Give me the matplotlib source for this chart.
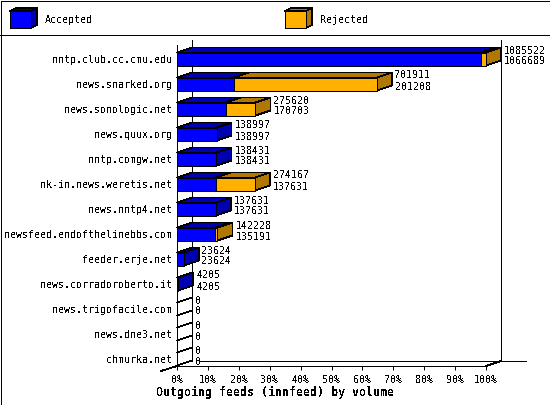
import numpy as np
import matplotlib
matplotlib.use('Agg')
import matplotlib.pyplot as plt
from matplotlib.patches import Polygon, Rectangle

hosts = ['nntp.club.cc.cmu.edu', 'news.snarked.org', 'news.sonologic.net', 'news.quux.org',
         'nntp.comgw.net', 'nk-in.news.weretis.net', 'news.nntp4.net', 'newsfeed.endofthelinebbs.com',
         'feeder.erje.net', 'news.corradoroberto.it', 'news.trigofacile.com', 'news.dne3.net', 'chmurka.net']
offered = [1085522, 701911, 275620, 138997, 138431, 274167, 137631, 142228, 23624, 4205, 0, 0, 0]
accepted = [1066689, 201208, 170703, 138997, 138431, 137631, 137631, 135191, 23624, 4205, 0, 0, 0]
pct_ticks = [0, 10, 20, 30, 40, 50, 60, 70, 80, 90, 100]

plt.rcParams['font.family'] = 'DejaVu Sans Mono'
plt.rcParams['font.size'] = 7.2
plt.rcParams['text.antialiased'] = False

W, H = 550, 405
LW = 0.55
BLUE, BLUE_D = '#0000ff', '#0000b0'
ORANGE, ORANGE_D = '#ffb000', '#b07800'

fig = plt.figure(figsize=(W / 100, H / 100), dpi=100)

# page layer in pixels
page = fig.add_axes([0, 0, 1, 1])
page.set_xlim(0, W)
page.set_ylim(H, 0)
page.axis('off')

# plot area: 0-100% is x=177..486, row i is centred on y=59+25i
left, right, top, bottom = 177, 486, 47, 366
ax = fig.add_axes([left / W, 1 - bottom / H, (right - left) / W, (bottom - top) / H])
ax.set_xlim(0, 100)
ax.set_ylim((bottom - 59) / 25, (top - 59) / 25)
ax.patch.set_alpha(0)
for s in ['top', 'right', 'left']:
    ax.spines[s].set_visible(False)
ax.spines['bottom'].set_linewidth(0.72)
ax.spines['bottom'].set_antialiased(False)

DX = 15 / 3.09
DY = 5 / 25
BH = 6.5 / 25


def line(xs, ys):
    page.plot(xs, ys, color='black', lw=0.72, antialiased=False, solid_capstyle='butt')


# walls
line([0.5, 549.5, 549.5, 0.5, 0.5], [0.5, 0.5, 404.5, 404.5, 0.5])
line([0, 550], [35, 35])
line([177, 177], [45, 366])
line([192, 192], [40, 361])
line([501, 501], [40, 361])
line([199, 526], [361, 361])
page.plot([161, 177], [371, 366], color='black', lw=LW, antialiased=False)
page.plot([486, 501], [366, 361], color='black', lw=LW, antialiased=False)


def box(x0, x1, i, front, dark):
    y0, y1 = i - BH, i + BH
    kw = dict(edgecolor='black', lw=LW, antialiased=False, clip_on=False, zorder=3)
    ax.add_patch(Polygon([(x0, y0), (x0 + DX, y0 - DY), (x1 + DX, y0 - DY), (x1, y0)], facecolor=dark, **kw))
    ax.add_patch(Polygon([(x1, y0), (x1 + DX, y0 - DY), (x1 + DX, y1 - DY), (x1, y1)], facecolor=dark, **kw))
    ax.add_patch(Rectangle((x0, y0), x1 - x0, y1 - y0, facecolor=front, **kw))


peak = max(offered)
for i in range(len(hosts)):
    end_a = accepted[i] / peak * 100
    end_o = offered[i] / peak * 100
    if offered[i] > 0:
        box(0, end_a, i, BLUE, BLUE_D)
        if end_o > end_a:
            box(end_a, end_o, i, ORANGE, ORANGE_D)
    else:
        # empty rows only leave the two edges on the wall
        for yy in (i - BH, i + BH):
            ax.plot([0, DX], [yy, yy - DY], color='black', lw=LW, antialiased=False, clip_on=False, zorder=3)
    tx = end_o + DX + 3 / 3.09
    ax.text(tx, i - 8.5 / 25, str(offered[i]), ha='left', va='center', clip_on=False, zorder=4,
            bbox=dict(facecolor='white', edgecolor='none', pad=0.5) if offered[i] == 0 else None)
    ax.text(tx, i + 2.5 / 25, str(accepted[i]), ha='left', va='center', clip_on=False, zorder=4)

ax.set_yticks(range(len(hosts)))
ax.set_yticklabels(hosts)
ax.tick_params(axis='y', length=0, pad=3.5)
ax.set_xticks(pct_ticks)
ax.set_xticklabels([f'{p}%' for p in pct_ticks])
ax.tick_params(axis='x', length=3, width=0.72, pad=3.5)

page.text(275, 392, 'Outgoing feeds (innfeed) by volume', ha='center', va='center',
          fontsize=8.4, fontweight='bold')

# legend
for x0, front, dark, name in [(10, BLUE, BLUE_D, 'Accepted'), (285, ORANGE, ORANGE_D, 'Rejected')]:
    kw = dict(edgecolor='black', lw=LW, antialiased=False)
    page.add_patch(Polygon([(x0, 11), (x0 + 6, 8), (x0 + 27, 8), (x0 + 21, 11)], facecolor=dark, **kw))
    page.add_patch(Polygon([(x0 + 21, 11), (x0 + 27, 8), (x0 + 27, 25), (x0 + 21, 28)], facecolor=dark, **kw))
    page.add_patch(Rectangle((x0, 11), 21, 17, facecolor=front, **kw))
    page.text(x0 + 35, 20, name, ha='left', va='center')

fig.savefig('out.png', dpi=100)
